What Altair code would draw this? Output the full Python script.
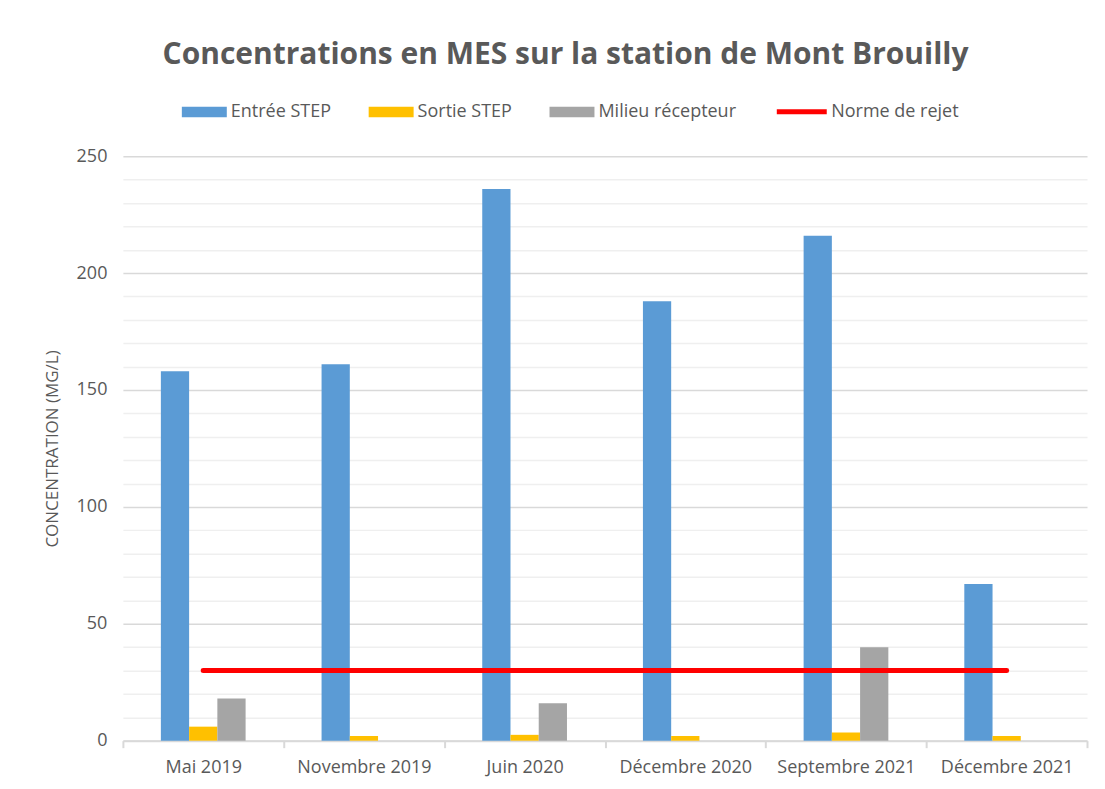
import altair as alt
import pandas as pd

categories = ["Mai 2019", "Novembre 2019", "Juin 2020", "Décembre 2020", "Septembre 2021", "Décembre 2021"]
series = ["Entrée STEP", "Sortie STEP", "Milieu récepteur"]
entree = [158, 161, 236, 188, 216, 67]
sortie = [6, 2, 2.5, 2, 3.5, 2]
milieu = [18, None, 16, None, 40, None]
norme = [30, 30, 30, 30, 30, 30]
y_ticks = list(range(0, 251, 10))

colors = ["#5B9BD5", "#FFC000", "#A5A5A5"]
red = "#FF0000"
txt = "#595959"
font = "Open Sans"

rows = []
for name, vals in zip(series, [entree, sortie, milieu]):
    for c, v in zip(categories, vals):
        rows.append({"date": c, "serie": name, "valeur": v})
bars_df = pd.DataFrame(rows)
line_df = pd.DataFrame({"date": categories, "valeur": norme, "serie": ["Norme de rejet"] * len(categories)})

offset_domain = ["_gauche"] + series + ["_droite"]

x_scale = alt.Scale(domain=categories, paddingInner=0, paddingOuter=0)
y_scale = alt.Scale(domain=[0, 250], nice=False)

x_axis = alt.Axis(title=None, labelAngle=0, labelFontSize=18, labelColor=txt, labelFont=font,
                  labelPadding=11, tickBand="extent", tickSize=7, tickColor="#d9d9d9",
                  domainColor="#d9d9d9", domainWidth=2, tickWidth=2, grid=False)
y_axis = alt.Axis(title="CONCENTRATION (MG/L)", titleFontSize=17, titleFontWeight="normal",
                  titleColor=txt, titleFont=font, titlePadding=15,
                  values=y_ticks, labelExpr="datum.value % 50 === 0 ? datum.label : ''",
                  labelOverlap=False,
                  labelFontSize=18, labelColor=txt, labelFont=font, labelPadding=16,
                  ticks=False, domain=False, grid=True,
                  gridColor={"condition": {"test": "datum.value % 50 === 0", "value": "#d9d9d9"}, "value": "#efefef"},
                  gridWidth=1.5)

bars = alt.Chart(bars_df).mark_bar().encode(
    x=alt.X("date:N", scale=x_scale, axis=x_axis, sort=categories),
    xOffset=alt.XOffset("serie:N",
                        scale=alt.Scale(domain=offset_domain, paddingInner=0, paddingOuter=0.345)),
    y=alt.Y("valeur:Q", scale=y_scale, axis=y_axis),
    color=alt.Color("serie:N", scale=alt.Scale(domain=series, range=colors),
                    legend=alt.Legend(title=None, orient="none", direction="horizontal",
                                      legendX=59, legendY=-67,
                                      symbolType="M-1,-0.23H1V0.23H-1Z", symbolSize=2025,
                                      symbolStrokeWidth=0, labelFontSize=18, labelColor=txt,
                                      labelFont=font, labelOffset=4, columnPadding=37)),
)

line = alt.Chart(line_df).mark_line(strokeWidth=5, strokeCap="round").encode(
    x=alt.X("date:N", scale=x_scale, axis=x_axis, sort=categories),
    y=alt.Y("valeur:Q", scale=y_scale, axis=y_axis),
    stroke=alt.Stroke("serie:N", scale=alt.Scale(domain=["Norme de rejet"], range=[red]),
                      legend=alt.Legend(title=None, orient="none", direction="horizontal",
                                        legendX=652, legendY=-72,
                                        symbolType="stroke", symbolSize=2500, symbolStrokeWidth=5,
                                        labelFontSize=18, labelColor=txt, labelFont=font,
                                        labelOffset=2)),
)

chart = alt.layer(bars, line).properties(
    width=965, height=585,
    padding={"left": 115, "top": 148, "right": 10, "bottom": 40},
    autosize=alt.AutoSizeParams(type="none"),
    background="white",
    title=alt.TitleParams("Concentrations en MES sur la station de Mont Brouilly",
                          fontSize=30, font=font, fontWeight="bold", color=txt,
                          anchor="middle", frame="bounds", offset=14),
).configure_view(stroke=None)

chart.save("out.html", embed_options={"renderer": "svg", "actions": False})
